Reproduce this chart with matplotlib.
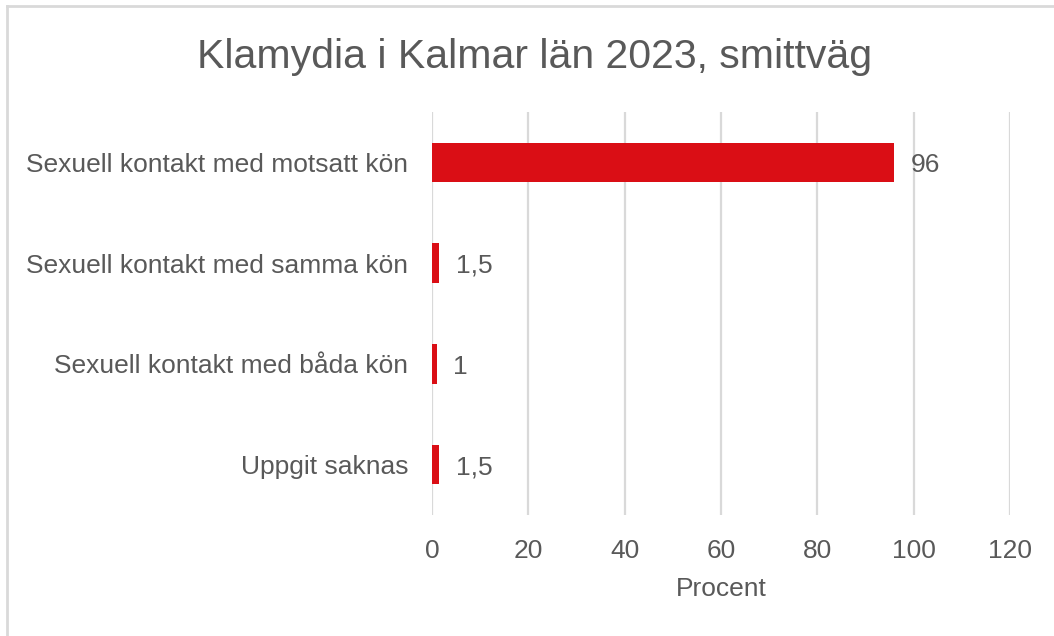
import matplotlib.pyplot as plt
from matplotlib.lines import Line2D

# data
kategorier = ['Sexuell kontakt med motsatt kön', 'Sexuell kontakt med samma kön',
              'Sexuell kontakt med båda kön', 'Uppgit saknas']
procent = [96, 1.5, 1, 1.5]
etiketter = ['96', '1,5', '1', '1,5']
xticks = [0, 20, 40, 60, 80, 100, 120]

plt.rcParams['font.family'] = ['Liberation Sans', 'DejaVu Sans']
grey = '#595959'

fig = plt.figure(figsize=(10.54, 6.36), dpi=100)
ax = fig.add_axes([432 / 1054, 1 - 515 / 636, 578 / 1054, 403 / 636])

y = list(range(len(kategorier)))
ax.barh(y, procent, height=0.39, color='#DA0E15', zorder=3)
for yi, v, lab in zip(y, procent, etiketter):
    ax.annotate(lab, (v, yi), xytext=(12, -2), textcoords='offset points',
                va='center', ha='left', fontsize=19, color=grey)

ax.set_xlim(0, 120)
ax.set_ylim(len(kategorier) - 0.5, -0.5)
ax.set_yticks(y)
ax.set_yticklabels(kategorier, fontsize=19, color=grey)
ax.set_xticks(xticks)
ax.set_xticklabels([str(t) for t in xticks], fontsize=19, color=grey)
ax.tick_params(length=0)
ax.tick_params(axis='x', pad=17)
ax.tick_params(axis='y', pad=17)
ax.xaxis.grid(True, color='#d9d9d9', lw=1.6, zorder=0)
for s in ax.spines.values():
    s.set_visible(False)
ax.set_xlabel('Procent', fontsize=19, color=grey, labelpad=10)

fig.text(535 / 1054, 1 - 57 / 636, 'Klamydia i Kalmar län 2023, smittväg',
         ha='center', va='center', fontsize=29.5, color=grey)

# chart frame (top and left edges visible)
fig.add_artist(Line2D([7 / 1054, 7 / 1054], [0, 1 - 6 / 636], transform=fig.transFigure,
                      color='#d9d9d9', lw=2))
fig.add_artist(Line2D([7 / 1054, 1], [1 - 6 / 636, 1 - 6 / 636], transform=fig.transFigure,
                      color='#d9d9d9', lw=2))

fig.savefig('out.png', dpi=100)
